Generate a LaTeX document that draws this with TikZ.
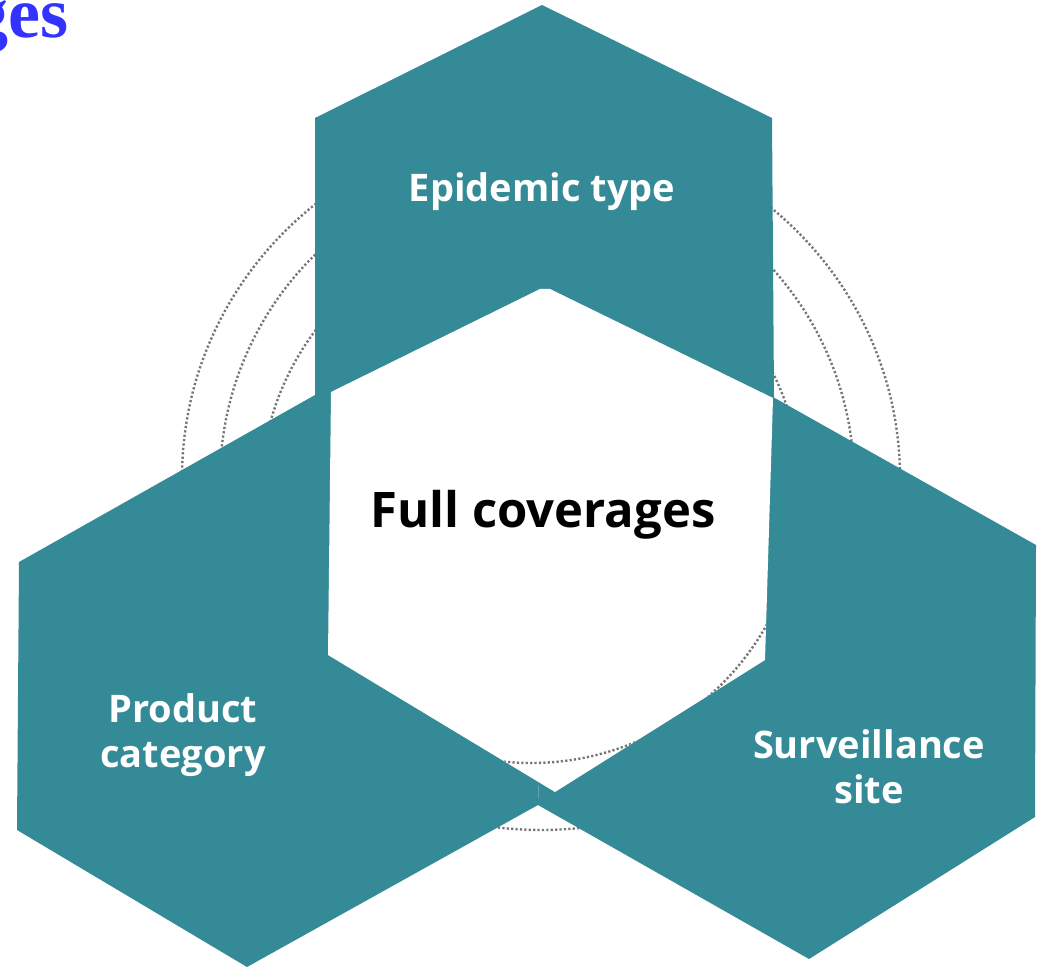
\documentclass[tikz,border=0pt]{standalone}
\usepackage{fontspec}
\setmainfont{Open Sans}
\newfontfamily\titlefont{Liberation Serif}
\usetikzlibrary{positioning}
\definecolor{hexteal}{RGB}{52,138,150}
\definecolor{ringgray}{RGB}{118,118,118}
\definecolor{titleblue}{RGB}{51,51,255}
\tikzset{
  hexa/.style={fill=hexteal, draw=none},
  hole/.style={fill=white, draw=none},
  ring/.style={draw=ringgray, line width=1.2pt, dash pattern=on 1.1pt off 1.1pt},
  hexlabel/.style={text=white, font=\bfseries\fontsize{19}{22.5}\selectfont, align=center, inner sep=0pt},
  centrelabel/.style={text=black, font=\bfseries\fontsize{24.5}{28}\selectfont, inner sep=0pt},
  titletext/.style={text=titleblue, font=\titlefont\bfseries\fontsize{36}{40}\selectfont, inner sep=0pt}
}

\begin{document}
\begin{tikzpicture}[x=0.5pt,y=-0.5pt]
\useasboundingbox (0,0) rectangle (1038,967);
\clip (0,0) rectangle (1038,967);

\coordinate (mid) at (548,540);

\draw[ring] (531,493) circle [radius=135pt];
\draw[ring] (537,481) circle [radius=158.5pt];
\draw[ring] (541,478) ellipse [x radius=179.5pt, y radius=176pt];

\fill[hexa] (542,5) -- (772,118) -- (774,397) -- (mid) -- (315,396) -- (315,118) -- cycle;
\fill[hexa] (19,562) -- (315,395) -- (mid) -- (538,805) -- (247,967) -- (17,830) -- cycle;
\fill[hexa] (773,397) -- (1036,545) -- (1035,817) -- (809,959) -- (538,805) -- (mid) -- cycle;

\fill[hole] (331,392) -- (540,289) -- (550,289) -- (773,398) -- (765,660) -- (555,792) -- (328,655) -- cycle;
\begin{scope}
  \clip (331,392) -- (540,289) -- (550,289) -- (773,398) -- (765,660) -- (555,792) -- (328,655) -- cycle;
  \draw[ring] (531,493) circle [radius=135pt];
\end{scope}

\node[hexlabel] (epidemic) at (542,192) {Epidemic type};
\node[hexlabel] (product) at (183,735) {Product\\category};
\node[hexlabel] (site) at (869,767) {Surveillance\\site};
\node[centrelabel] (full) at (543,515) {Full coverages};

\node[titletext, anchor=base east] (title) at (69,38) {ges};
\end{tikzpicture}
\end{document}
